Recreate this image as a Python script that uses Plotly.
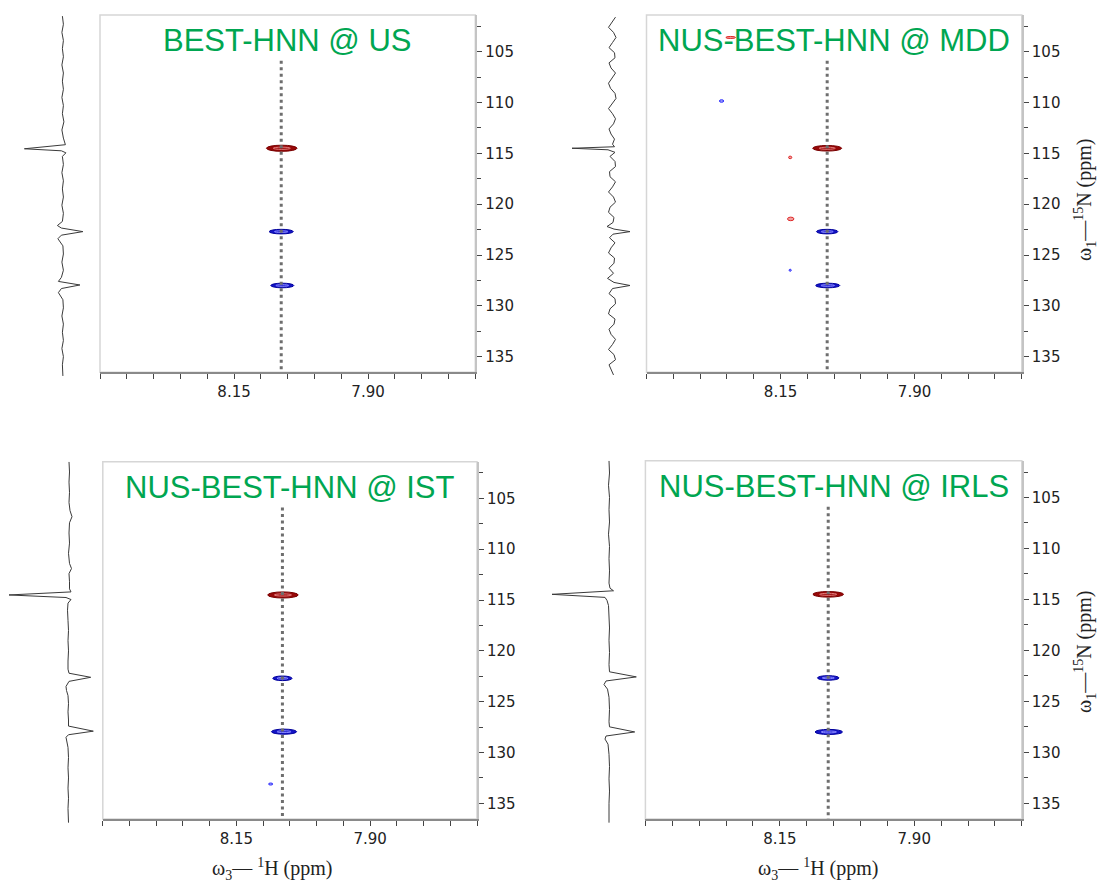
import plotly.graph_objects as go

W, H = 1099, 882

# ---------------- data ----------------
titles = ["BEST-HNN @ US", "NUS-BEST-HNN @ MDD", "NUS-BEST-HNN @ IST", "NUS-BEST-HNN @ IRLS"]

# 1D 15N slices (ppm, intensity a.u.)
us_n = [101.5, 102.3, 103.1, 103.9, 104.7, 105.5, 106.3, 107.1, 107.9, 108.7, 109.5, 110.3, 111.1, 111.9, 112.7, 113.5,
        114.15, 114.55, 114.75, 114.95, 115.3,
        116.1, 116.9, 117.7, 118.5, 119.3, 120.1, 120.9, 121.7,
        122.1, 122.35, 122.7, 123.05, 123.4,
        124.1, 124.9, 125.7, 126.5,
        127.2, 127.6, 127.95, 128.3, 128.7,
        129.4, 130.2, 131.0, 131.8, 132.6, 133.4, 134.2, 135.0, 135.8, 136.9]
us_i = [0.0, 0.1, -0.05, 0.1, 0.0, 0.1, -0.05, 0.1, 0.0, 0.1, -0.05, 0.1, 0.0, 0.15, -0.05, 0.1,
        0.3, -3.8, -0.1, 0.35, 0.0,
        0.1, -0.05, 0.1, 0.0, 0.1, -0.05, 0.1, 0.0,
        -0.5, -0.1, 2.05, -0.1, -0.45,
        0.05, 0.1, -0.05, 0.1,
        -0.1, -0.4, 1.75, -0.1, -0.4,
        0.05, 0.1, -0.05, 0.1, 0.0, 0.1, -0.05, 0.1, 0.0, 0.05]

mdd_n = [101.6, 102.1, 102.6, 103.1, 103.6, 104.1, 104.6, 105.1, 105.6, 106.1, 106.6, 107.1, 107.6, 108.1, 108.6,
         109.1, 109.6, 110.1, 110.6, 111.1, 111.6, 112.1, 112.6, 113.1, 113.6, 114.1,
         114.35, 114.5, 114.65, 114.9,
         115.3, 115.8, 116.3, 116.8, 117.3, 117.8, 118.3, 118.8, 119.3, 119.8, 120.3, 120.8, 121.3, 121.8,
         122.2, 122.45, 122.7, 122.95,
         123.3, 123.8, 124.3, 124.8, 125.3, 125.8, 126.3, 126.8, 127.3,
         127.7, 128.0, 128.3,
         128.8, 129.3, 129.8, 130.3, 130.8, 131.3, 131.8, 132.3, 132.8, 133.3, 133.8, 134.3, 134.8, 135.3, 135.8, 136.8]
mdd_i = [0.35, 0.0, -0.35, 0.15, 0.4, 0.05, -0.3, 0.25, 0.3, -0.3,
         -0.1, 0.35, 0.0, -0.35, -0.15, 0.3, 0.4, 0.0, -0.35, 0.05,
         0.35, 0.15, -0.3, -0.1, 0.25, 0.05,
         0.25, -4.0, -0.4, 0.3,
         -0.2, 0.3, 0.35, -0.25, -0.2, 0.35, 0.05, -0.35, 0.15, 0.35, -0.2, -0.35, 0.2, 0.1,
         -0.5, 0.2, 1.8, 0.1,
         -0.25, 0.3, -0.1, -0.35, 0.25, 0.2, -0.3, 0.15, -0.45,
         0.2, 1.8, 0.05,
         -0.3, 0.3, 0.35, -0.2, -0.35, 0.3, 0.2, -0.3, -0.1, 0.35, 0.05, -0.35, 0.2, 0.35, -0.3, 0.15]

ist_n = [101.4, 102.4, 103.4, 104.4, 105.4, 106.2, 106.8, 107.4, 108.4, 109.4, 110.4, 111.4, 111.9, 112.4,
         113.2, 113.9, 114.2, 114.5, 114.75, 114.95, 115.3,
         116.0, 117.0, 118.0, 119.0, 120.0, 121.0,
         121.8, 122.2, 122.6, 123.0, 123.5, 123.9, 124.4,
         125.2, 126.0, 126.8, 127.4, 127.9, 128.25, 128.5, 128.9,
         129.5, 130.5, 131.5, 132.5, 133.5, 134.5, 135.5, 136.9]
ist_i = [0.0, 0.05, 0.0, 0.05, 0.0, 0.1, 0.3, 0.05, 0.0, 0.05, -0.05, 0.05, 0.25, 0.0,
         0.05, 0.05, 0.2, -6.0, -0.3, 0.2, -0.1,
         -0.15, -0.1, -0.05, -0.1, -0.05, -0.1,
         -0.1, 0.0, 2.17, 0.0, -0.3, -0.25, -0.1,
         -0.05, -0.1, -0.05, -0.05, 2.43, -0.05, -0.3, -0.2,
         -0.1, -0.05, -0.1, -0.05, -0.1, -0.05, -0.1, -0.05]

irls_n = [101.4, 102.6, 103.8, 105.0, 106.2, 107.4, 108.6, 109.8, 111.0, 112.2, 113.4,
          113.9, 114.15, 114.5, 114.8, 115.1, 115.6,
          116.6, 117.8, 119.0, 120.2, 121.4,
          122.1, 122.6, 123.0, 123.35, 123.8,
          124.6, 125.8, 127.0, 127.5,
          128.0, 128.4, 128.7, 129.2,
          130.2, 131.4, 132.6, 133.8, 135.0, 136.9]
irls_i = [0.0, 0.05, -0.05, 0.05, 0.0, 0.05, -0.05, 0.05, 0.0, 0.05, 0.0,
          0.1, 0.45, -5.7, -0.4, -0.2, -0.05,
          0.0, 0.05, 0.0, 0.05, 0.0,
          0.05, 2.73, -0.3, -0.5, -0.15,
          0.0, 0.05, 0.0, 0.05,
          2.57, -0.3, -0.4, -0.1,
          0.0, 0.05, 0.0, 0.05, 0.0, 0.0]

# 2D peak lists: 1H shift, 15N shift, 1H linewidth, 15N linewidth, kind
us_pk_h = [8.061, 8.062, 8.060]
us_pk_n = [114.5, 122.7, 128.0]
us_pk_wh = [0.057, 0.045, 0.043]
us_pk_wn = [0.60, 0.45, 0.45]
us_pk_kind = ["neg", "pos", "pos"]

mdd_pk_h = [8.063, 8.063, 8.062, 8.260, 8.132, 8.131, 8.132, 8.243]
mdd_pk_n = [114.5, 122.7, 128.0, 109.85, 115.4, 121.45, 126.5, 103.6]
mdd_pk_wh = [0.054, 0.040, 0.045, 0.008, 0.006, 0.012, 0.004, 0.018]
mdd_pk_wn = [0.55, 0.45, 0.45, 0.25, 0.25, 0.35, 0.20, 0.20]
mdd_pk_kind = ["neg", "pos", "pos", "pos_w", "neg_w", "neg_w", "pos_w", "neg_w"]

ist_pk_h = [8.063, 8.064, 8.061, 8.086]
ist_pk_n = [114.5, 122.7, 127.95, 133.1]
ist_pk_wh = [0.057, 0.036, 0.047, 0.008]
ist_pk_wn = [0.60, 0.45, 0.50, 0.20]
ist_pk_kind = ["neg", "pos", "pos", "pos_w"]

irls_pk_h = [8.060, 8.060, 8.059]
irls_pk_n = [114.5, 122.7, 128.0]
irls_pk_wh = [0.057, 0.040, 0.051]
irls_pk_wn = [0.55, 0.45, 0.50]
irls_pk_kind = ["neg", "pos", "pos"]

# dotted 1H guide position and 15N start
guide_h = [8.062, 8.063, 8.064, 8.060]
guide_n_top = 105.9

# axis ticks
h_ticks = [8.15, 7.90]
h_ticktext = ["8.15", "7.90"]
h_minor = [8.40, 8.35, 8.30, 8.25, 8.20, 8.15, 8.10, 8.05, 8.00, 7.95, 7.90, 7.85, 7.80, 7.75, 7.70]
n_ticks = [105, 110, 115, 120, 125, 130, 135]
n_ticktext = ["105", "110", "115", "120", "125", "130", "135"]
n_minor = [102.5, 107.5, 112.5, 117.5, 122.5, 127.5, 132.5]

# ---------------- geometry ----------------
frames = [  # x0, x1, y0, y1 in px
    (100.0, 475.3, 15.0, 372.3),
    (646.5, 1021.8, 15.0, 372.3),
    (102.8, 477.0, 461.7, 819.0),
    (645.4, 1021.8, 460.7, 819.0),
]
slice_boxes = [(0.0, 100.0, 62.4), (550.0, 646.5, 612.0), (0.0, 102.8, 69.0), (550.0, 645.4, 609.0)]
N_TOP, N_BOT = 101.39, 136.54
H_L, H_R = 8.40, 7.70
PX_PER_UNIT = 10.0

slices = [(us_n, us_i), (mdd_n, mdd_i), (ist_n, ist_i), (irls_n, irls_i)]
peaks = [
    (us_pk_h, us_pk_n, us_pk_wh, us_pk_wn, us_pk_kind),
    (mdd_pk_h, mdd_pk_n, mdd_pk_wh, mdd_pk_wn, mdd_pk_kind),
    (ist_pk_h, ist_pk_n, ist_pk_wh, ist_pk_wn, ist_pk_kind),
    (irls_pk_h, irls_pk_n, irls_pk_wh, irls_pk_wn, irls_pk_kind),
]
for a, b in slices:
    assert len(a) == len(b), (len(a), len(b))

STYLE = {
    "neg": dict(fill="#980808", line="#780000", inner="#e07a7a"),
    "pos": dict(fill="#1414c8", line="#00009c", inner="#8a8aff"),
    "neg_w": dict(fill="#f0a0a0", line="#e02828", inner=None),
    "pos_w": dict(fill="#a8a8f8", line="#2a2aff", inner=None),
}

TICK_FONT = dict(family="DejaVu Sans", size=15, color="#222222")
GREEN = "#00a651"


def fx(px):
    return px / W


def fy(py):
    return 1 - py / H


def sid(k):
    return "" if k == 1 else str(k)


fig = go.Figure()
layout = dict(width=W, height=H, margin=dict(l=0, r=0, t=0, b=0),
              paper_bgcolor="white", plot_bgcolor="white", showlegend=False)
shapes = []
annotations = []

for p in range(4):
    i = p + 1
    j = p + 5
    x0, x1, y0, y1 = frames[p]
    px_per_ppm = (y1 - y0) / (N_BOT - N_TOP)

    # 2D axes
    layout["xaxis" + sid(i)] = dict(
        domain=[fx(x0), fx(x1)], range=[H_L, H_R], anchor="y" + sid(i),
        showgrid=False, zeroline=False, showline=True, linecolor="#8a8a8a", linewidth=1.5,
        ticks="outside", ticklen=5, tickwidth=1, tickcolor="#444444",
        tickmode="array", tickvals=h_ticks, ticktext=h_ticktext, tickfont=TICK_FONT,
        minor=dict(tickmode="array", tickvals=h_minor, ticks="outside", ticklen=5,
                   tickwidth=1, tickcolor="#444444"),
        fixedrange=True)
    layout["yaxis" + sid(i)] = dict(
        domain=[fy(y1), fy(y0)], range=[N_BOT, N_TOP], anchor="x" + sid(i), side="right",
        showgrid=False, zeroline=False, showline=True, linecolor="#c4c4c4", linewidth=2,
        ticks="outside", ticklen=5, tickwidth=1, tickcolor="#444444",
        tickmode="array", tickvals=n_ticks, ticktext=n_ticktext, tickfont=TICK_FONT,
        minor=dict(tickmode="array", tickvals=n_minor, ticks="outside", ticklen=4,
                   tickwidth=1, tickcolor="#444444"),
        fixedrange=True)

    # slice axes
    sx0, sx1, base = slice_boxes[p]
    ybot = y1 + 6
    layout["xaxis" + sid(j)] = dict(
        domain=[fx(sx0), fx(sx1)],
        range=[(sx0 - base) / PX_PER_UNIT, (sx1 - base) / PX_PER_UNIT],
        anchor="y" + sid(j), visible=False, fixedrange=True)
    layout["yaxis" + sid(j)] = dict(
        domain=[fy(ybot), fy(y0)],
        range=[N_TOP + (ybot - y0) / px_per_ppm, N_TOP],
        anchor="x" + sid(j), visible=False, fixedrange=True)

    # frame
    shapes.append(dict(type="rect", xref="x" + sid(i) + " domain", yref="y" + sid(i) + " domain",
                       x0=0, x1=1, y0=0, y1=1, line=dict(color="#d6d6d6", width=1.5),
                       fillcolor="rgba(0,0,0,0)", layer="below"))

    # 1D slice
    sn, si = slices[p]
    fig.add_trace(go.Scatter(x=si, y=sn, mode="lines", line=dict(color="#3a3a3a", width=1),
                             xaxis="x" + sid(j), yaxis="y" + sid(j), hoverinfo="skip"))

    # peaks as ellipses
    ph, pn, pwh, pwn, pk = peaks[p]
    for h, n, wh, wn, kind in zip(ph, pn, pwh, pwn, pk):
        st = STYLE[kind]
        shapes.append(dict(type="circle", xref="x" + sid(i), yref="y" + sid(i),
                           x0=h + wh / 2, x1=h - wh / 2, y0=n - wn / 2, y1=n + wn / 2,
                           fillcolor=st["fill"], line=dict(color=st["line"], width=1), layer="below"))
        if st["inner"]:
            shapes.append(dict(type="circle", xref="x" + sid(i), yref="y" + sid(i),
                               x0=h + wh * 0.28, x1=h - wh * 0.28, y0=n - wn * 0.18, y1=n + wn * 0.18,
                               fillcolor="rgba(0,0,0,0)", line=dict(color=st["inner"], width=1),
                               layer="below"))

    # dotted guide
    fig.add_trace(go.Scatter(x=[guide_h[p], guide_h[p]], y=[guide_n_top, N_BOT + 0.1], mode="lines",
                             line=dict(color="#6e6e6e", width=3, dash="3px,3.5px"),
                             xaxis="x" + sid(i), yaxis="y" + sid(i), hoverinfo="skip"))

    # title
    annotations.append(dict(text=titles[p], xref="paper", yref="paper",
                            x=fx((x0 + x1) / 2), y=fy(y0 + 26), xanchor="center", yanchor="middle",
                            showarrow=False, font=dict(family="Liberation Sans, Arial", size=31, color=GREEN)))

# axis titles
AX_FONT = dict(family="Liberation Serif, Times New Roman", size=20, color="#222222")
for yc in (200.0, 652.0):
    annotations.append(dict(text="ω<sub>1</sub>—<sup>15</sup>N (ppm)", xref="paper", yref="paper",
                            x=fx(1085.0), y=fy(yc), xanchor="center", yanchor="middle",
                            textangle=-90, showarrow=False, font=AX_FONT))
for xc in (272.0, 818.0):
    annotations.append(dict(text="ω<sub>3</sub>— <sup>1</sup>H (ppm)", xref="paper", yref="paper",
                            x=fx(xc), y=fy(869.0), xanchor="center", yanchor="middle",
                            showarrow=False, font=AX_FONT))

layout["shapes"] = shapes
layout["annotations"] = annotations
fig.update_layout(**layout)
fig.write_html("out.html")
